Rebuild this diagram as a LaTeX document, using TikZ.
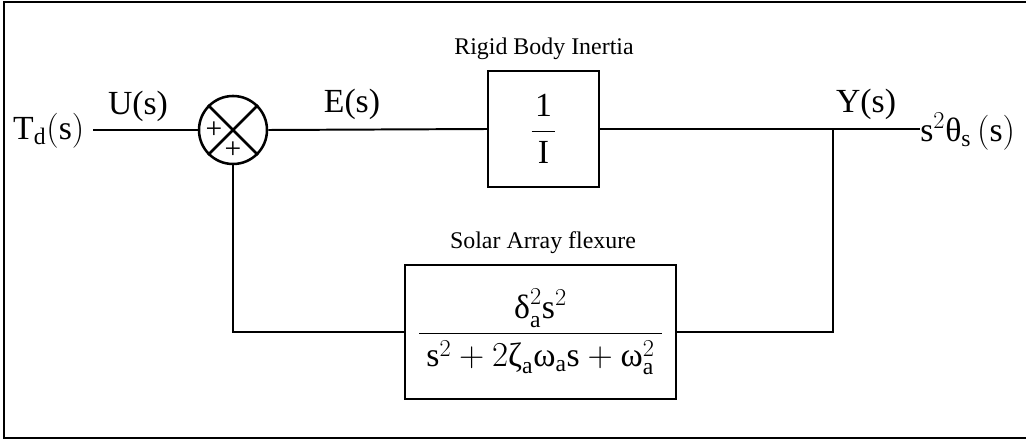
\documentclass[tikz,border=0pt]{standalone}
\usepackage{amsmath}
\usepackage{fontspec}
\setmainfont{Liberation Serif}
\usetikzlibrary{positioning}

\begin{document}
\begin{tikzpicture}[x=0.025cm, y=-0.025cm,
  wire/.style={line width=1.4pt},
  block/.style={draw, line width=1.4pt, inner sep=0pt},
  sig/.style={font=\fontsize{24}{28}\selectfont, inner sep=0pt},
  blocklbl/.style={font=\fontsize{17}{20}\selectfont, inner sep=0pt, anchor=base},
  sgn/.style={font=\fontsize{21}{22}\selectfont, inner sep=0pt}]
  \useasboundingbox (0,0) rectangle (1026,440);
  \draw[line width=1pt] (1026,2) -- (4,2) -- (4,438) -- (1026,438);

  % summing junction
  \node[circle, draw, line width=1.8pt, minimum size=1.7cm, inner sep=0pt] (sum) at (233,130) {};
  \draw[line width=1.8pt] (sum.north west) -- (sum.south east) (sum.north east) -- (sum.south west);
  \node[sgn] (plusl) at (214,130) {+};
  \node[sgn] (plusb) at (233,150) {+};

  % blocks
  \node[block, sig, minimum width=2.775cm, minimum height=2.9cm] (inertia) at (543.5,129)
    {$\displaystyle\frac{\kern2.5pt\text{1}\kern2.5pt}{\text{I}}$};
  \node[blocklbl] (inertialbl) at (544,55) {Rigid Body Inertia};

  \node[block, sig, minimum width=6.775cm, minimum height=3.35cm] (flex) at (540.5,332)
    {$\displaystyle\frac{\text{δ}^2_{\text{a}}\mathrm{s}^2}{\kern5pt\mathrm{s}^2+2\text{ζ}_{\text{a}}\text{ω}_{\text{a}}\mathrm{s}+\text{ω}^2_{\text{a}}\kern5pt}$};
  \node[blocklbl] (flexlbl) at (543,248) {Solar Array flexure};

  % signals
  \node[sig, anchor=base east, inner xsep=6pt] (Td) at (93,139) {$\mathrm{T}_{\mathrm{d}}(\mathrm{s})$};
  \node[sig, anchor=base] (U) at (138,115) {U(s)};
  \node[sig, anchor=base] (E) at (352,112) {E(s)};
  \node[sig, anchor=base] (Y) at (866,112) {Y(s)};
  \node[sig, anchor=base west] (theta) at (920,141) {$\mathrm{s}^2\text{θ}_{\mathrm{s}}\,(\mathrm{s})$};
  \coordinate (tap) at (833,130);

  \draw[wire] (Td.east |- sum.west) -- (sum.west);
  \draw[wire] (sum.east) -- (inertia.west);
  \draw[wire] (inertia.east) -- (theta.west |- inertia.east);
  \draw[wire] (tap) -- (tap |- flex.east) -- (flex.east);
  \draw[wire] (flex.west) -- (sum |- flex.west) -- (sum.south);
\end{tikzpicture}
\end{document}
